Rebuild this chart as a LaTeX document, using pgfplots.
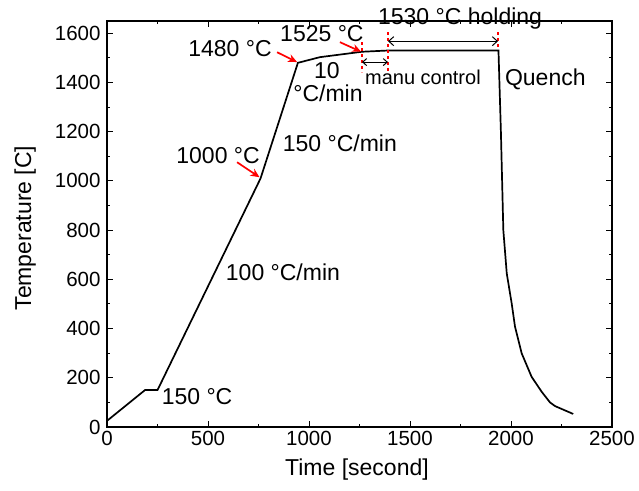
\documentclass[border=0pt]{standalone}
\usepackage{fontspec}
\setmainfont{Liberation Sans}
\usepackage{pgfplots}
\pgfplotsset{compat=1.18}
\usetikzlibrary{arrows.meta}
\begin{document}
\begin{tikzpicture}
\begin{axis}[
  at={(0,0)}, anchor=south west,
  scale only axis, width=505pt, height=406pt,
  xmin=0, xmax=2500, ymin=0, ymax=1650,
  xtick={0,500,...,2500}, ytick={0,200,...,1600},
  minor x tick num=1, minor y tick num=1,
  tick align=inside, tick pos=both,
  major tick length=6pt, minor tick length=3.5pt,
  axis line style={line width=1.2pt},
  every tick/.style={line width=1pt, black},
  /pgf/number format/assume math mode=true,
  /pgf/number format/1000 sep={},
  tick label style={font=\fontsize{20.5}{23}\selectfont},
  xticklabel style={yshift=-1pt},
  yticklabel style={xshift=-3pt},
  label style={font=\fontsize{23}{27}\selectfont},
  xlabel={Time [second]}, ylabel={Temperature [C]},
  xlabel style={at={(axis description cs:0.495,-0.106)}, anchor=center},
  ylabel style={at={(axis description cs:-0.162,0.49)}, anchor=center},
  clip=false,
]
\addplot[black, line width=1.7pt] coordinates {
(0,25) (188,150) (250,150) (760,1010) (945,1480) (1054,1503) (1262,1525)
(1390,1530) (1938,1530) (1950,1200) (1962,800) (1979,624) (2003,504)
(2020,407) (2053,299) (2102,204) (2152,143) (2193,100) (2218,85) (2308,53)
};
\begin{scope}[font=\fontsize{23}{27}\selectfont, every node/.style={inner sep=1pt}]
\node at (axis cs:609,1539) {1480 °C};
\node at (axis cs:1064,1600) {1525 °C};
\node at (axis cs:1748,1661) {1530 °C holding};
\node[inner sep=0pt] at (axis cs:1089,1448) {10};
\node[inner sep=0pt] at (axis cs:1094,1357) {°C/min};
\node at (axis cs:1153,1154) {150 °C/min};
\node at (axis cs:550,1105) {1000 °C};
\node at (axis cs:871,630) {100 °C/min};
\node at (axis cs:446,122) {150 °C};
\node at (axis cs:2170,1413) {Quench};
\end{scope}
\node[font=\fontsize{20}{23}\selectfont, inner sep=1pt] at (axis cs:1564,1422) {manu control};
\draw[red, line width=1.7pt, -{Stealth[length=9pt,width=8pt]}] (axis cs:842,1523) -- (axis cs:941,1483);
\draw[red, line width=1.7pt, -{Stealth[length=9pt,width=8pt]}] (axis cs:1153,1564) -- (axis cs:1258,1525);
\draw[red, line width=1.7pt, -{Stealth[length=9pt,width=8pt]}] (axis cs:644,1076) -- (axis cs:755,1015);
\draw[red, line width=1.3pt, dash pattern=on 3pt off 3pt] (axis cs:1391,1604) -- (axis cs:1391,1442);
\draw[red, line width=1.3pt, dash pattern=on 3pt off 3pt] (axis cs:1262,1564) -- (axis cs:1262,1442);
\draw[red, line width=1.3pt, dash pattern=on 3pt off 3pt] (axis cs:1936,1604) -- (axis cs:1936,1531);
\draw[black, line width=1pt, {Straight Barb[length=5pt,width=9pt]}-{Straight Barb[length=5pt,width=9pt]}] (axis cs:1391,1568) -- (axis cs:1936,1568);
\draw[black, line width=1pt, {Straight Barb[length=4pt,width=7pt]}-{Straight Barb[length=4pt,width=7pt]}] (axis cs:1262,1483) -- (axis cs:1391,1483);
\end{axis}
\path (-107pt,-63pt) rectangle (532pt,427pt);
\end{tikzpicture}
\end{document}
